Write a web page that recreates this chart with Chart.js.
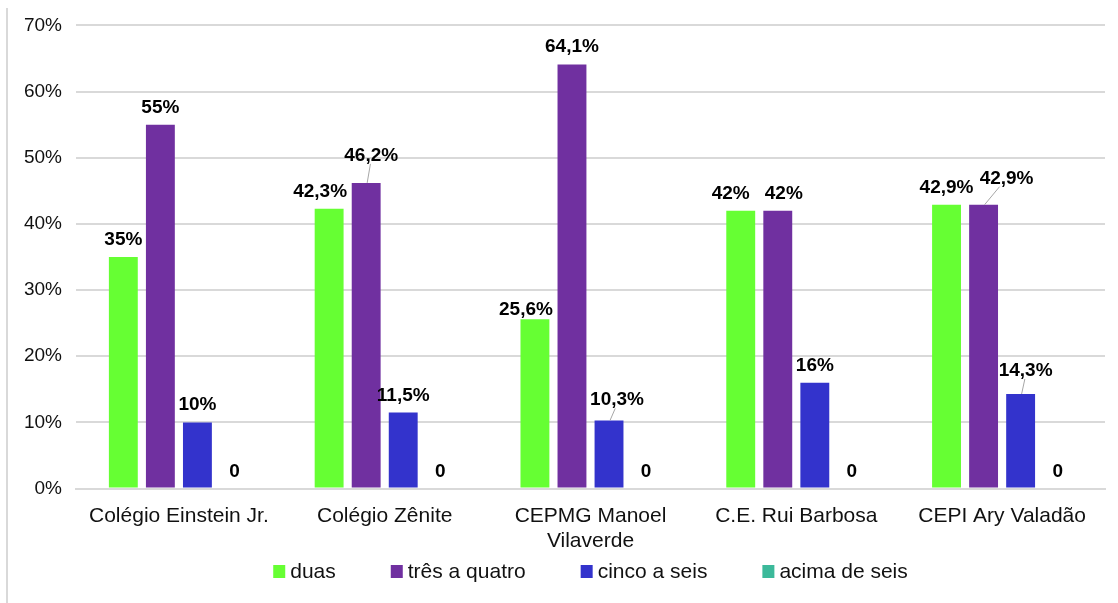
<!DOCTYPE html>
<html>
<head>
<meta charset="utf-8">
<script src="https://cdn.jsdelivr.net/npm/chart.js@4"></script>
<style>
  body { margin: 0; background: #fff; }
  #wrap { position: relative; width: 1118px; height: 603px; }
  #frame { position: absolute; left: 6px; top: 8px; height: 595px; border-left: 2px solid #d9d9d9; }
  canvas { position: absolute; left: 0; top: 0; }
</style>
</head>
<body>
<div id="wrap">
  <div id="frame"></div>
  <canvas id="chart" width="1118" height="603"></canvas>
</div>
<script>
const schools = ['Colégio Einstein Jr.', 'Colégio Zênite', ['CEPMG Manoel', 'Vilaverde'], 'C.E. Rui Barbosa', 'CEPI Ary Valadão'];
const duas = [35, 42.3, 25.6, 42, 42.9];
const tresQuatro = [55, 46.2, 64.1, 42, 42.9];
const cincoSeis = [10, 11.5, 10.3, 16, 14.3];
const acimaSeis = [0, 0, 0, 0, 0];
const yTicks = [0, 10, 20, 30, 40, 50, 60, 70];

const FONT = '"Liberation Sans", Arial, sans-serif';

// label nudges [dx, dy, leader line] by "dataset,index"
const nudges = {
  '0,1': [-9, 0, false],
  '1,1': [5, -10, true],
  '0,2': [-9, 8, false],
  '2,2': [8, -3, true],
  '0,3': [-10, 0, false],
  '1,3': [6, 0, false],
  '1,4': [23, -9, true],
  '2,4': [5, -6, true]
};

const fmt = v => v === 0 ? '0' : String(v).replace('.', ',') + '%';

const barLabels = {
  id: 'barLabels',
  afterDatasetsDraw(chart) {
    const ctx = chart.ctx;
    ctx.save();
    ctx.font = 'bold 19px ' + FONT;
    ctx.textAlign = 'center';
    ctx.textBaseline = 'alphabetic';
    chart.data.datasets.forEach((ds, di) => {
      chart.getDatasetMeta(di).data.forEach((bar, i) => {
        const n = nudges[di + ',' + i] || [0, 0, false];
        const x = bar.x + n[0];
        const base = bar.y - 12 + n[1];
        if (n[2]) {
          ctx.strokeStyle = '#a6a6a6';
          ctx.lineWidth = 1;
          ctx.beginPath();
          ctx.moveTo(bar.x + 1, bar.y);
          ctx.lineTo(bar.x + n[0] * 0.65 + 1, base + 3);
          ctx.stroke();
        }
        ctx.fillStyle = '#000';
        ctx.fillText(fmt(ds.data[i]), x, base);
      });
    });
    ctx.restore();
  }
};

const bottomLegend = {
  id: 'bottomLegend',
  afterDraw(chart) {
    const ctx = chart.ctx;
    const area = chart.chartArea;
    ctx.save();
    ctx.font = '21px ' + FONT;
    ctx.textBaseline = 'middle';
    const box = 12, gap = 5, spacing = 55;
    const items = chart.data.datasets.map(ds => ({ text: ds.label, color: ds.backgroundColor, w: ctx.measureText(ds.label).width }));
    const total = items.reduce((s, it) => s + box + gap + it.w, 0) + spacing * (items.length - 1);
    let x = (area.left + area.right) / 2 - total / 2;
    const y = 571;
    items.forEach(it => {
      ctx.fillStyle = it.color;
      ctx.fillRect(x, y - 6, box, box + 1);
      ctx.fillStyle = '#111';
      ctx.fillText(it.text, x + box + gap, y + 1);
      x += box + gap + it.w + spacing;
    });
    ctx.restore();
  }
};

new Chart(document.getElementById('chart'), {
  type: 'bar',
  data: {
    labels: schools,
    datasets: [
      { label: 'duas', data: duas, backgroundColor: '#66ff33' },
      { label: 'três a quatro', data: tresQuatro, backgroundColor: '#7030a0' },
      { label: 'cinco a seis', data: cincoSeis, backgroundColor: '#3333cc' },
      { label: 'acima de seis', data: acimaSeis, backgroundColor: '#3cb99a' }
    ]
  },
  options: {
    responsive: false,
    animation: false,
    layout: { padding: { top: 8, right: 13, bottom: 42, left: 0 } },
    datasets: { bar: { categoryPercentage: 0.72, barPercentage: 0.78 } },
    plugins: {
      legend: { display: false },
      tooltip: { enabled: false }
    },
    scales: {
      x: {
        grid: { display: false },
        border: { color: '#d9d9d9', width: 2 },
        ticks: {
          color: '#111', padding: 7, maxRotation: 0, autoSkip: false,
          font: { size: 21, family: FONT, lineHeight: 1.2 }
        }
      },
      y: {
        min: 0, max: 70,
        afterFit: s => { s.width = 76; },
        afterBuildTicks: s => { s.ticks = yTicks.map(v => ({ value: v })); },
        grid: { color: '#d9d9d9', lineWidth: 2, drawTicks: false },
        border: { display: false },
        ticks: {
          color: '#111', padding: 14,
          font: { size: 19, family: FONT },
          callback: v => v + '%'
        }
      }
    }
  },
  plugins: [barLabels, bottomLegend]
});
</script>
</body>
</html>
